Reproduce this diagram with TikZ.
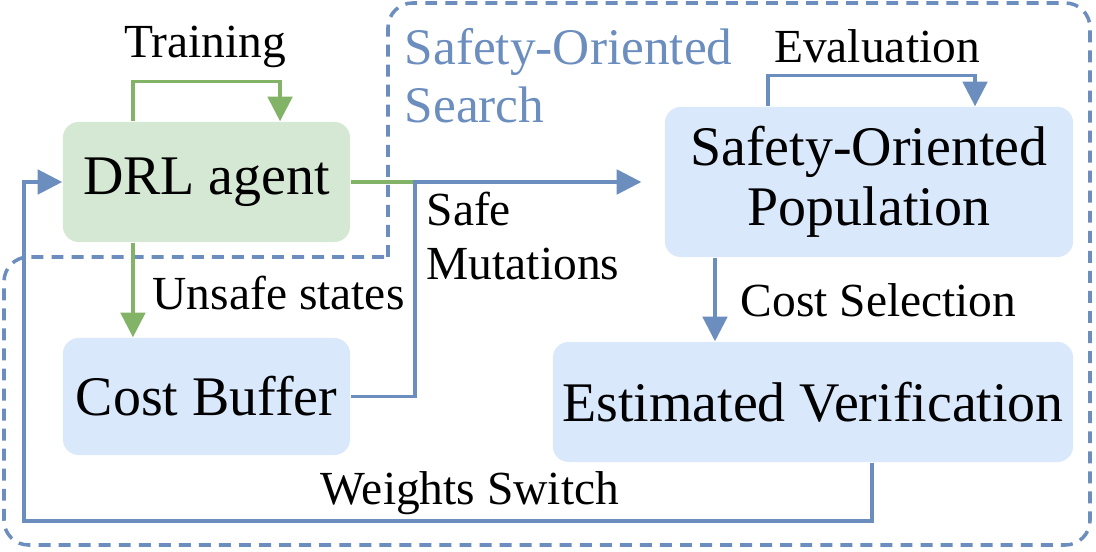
\documentclass[tikz,border=0pt]{standalone}
\usepackage{fontspec}
\setmainfont{Liberation Serif}
\usetikzlibrary{arrows.meta,calc}
\definecolor{agentgreen}{HTML}{D5E8D4}
\definecolor{linegreen}{HTML}{82B366}
\definecolor{boxblue}{HTML}{DAE8FC}
\definecolor{lineblue}{HTML}{6C8EBF}

\begin{document}
\begin{tikzpicture}[x=0.01cm,y=-0.01cm,
	box/.style={rounded corners=4.5pt, inner sep=0pt, align=center, font=\fontsize{15.9}{17}\selectfont},
	lbl/.style={inner sep=0pt, font=\fontsize{13.5}{15.6}\selectfont},
	gline/.style={linegreen, line width=0.9pt},
	bline/.style={lineblue, line width=0.9pt},
	tip/.style={-{Triangle[length=7pt,width=7pt]}}]
			
			\useasboundingbox (0,0) rectangle (1096,552);
			
			% search region
			\draw[lineblue, line width=1pt, dash pattern=on 3.4pt off 2.3pt, rounded corners=7pt] (388,257) -- (388,3) -- (1090,3) -- (1090,545) -- (4,545) -- (4,257) -- (388,257);
			\node[lbl, lineblue, anchor=west, align=left, font=\fontsize{14.6}{16.5}\selectfont] (title) at (404,76) {Safety-Oriented\\Search};
			
			\node[box, fill=agentgreen, minimum width=2.87cm, minimum height=1.2cm] (agent) at (206.5,182) {DRL agent};
			\node[box, fill=boxblue, minimum width=2.87cm, minimum height=1.17cm] (buffer) at (206.5,396.5) {Cost Buffer};
			\node[box, fill=boxblue, minimum width=4.08cm, minimum height=1.5cm] (pop) at (869,182) {Safety-Oriented\\Population};
			\node[box, fill=boxblue, minimum width=5.2cm, minimum height=1.2cm] (verif) at (813,402) {Estimated Verification};
			
			\coordinate (join) at (415,182);
			\coordinate (corner) at (24,521);
			\coordinate (csel) at ($(pop.south)+(-154,0)$);
			
			\draw[gline, tip] ([xshift=-0.735cm]agent.north) -- ++(0,-40) -| ([xshift=0.735cm]agent.north);
			\draw[gline] (agent.east) -- (join);
			\draw[bline, tip, shorten >=6.5pt] (buffer.east) -| (join) -- (pop.west);
			\draw[gline, tip] ([xshift=-0.735cm]agent.south) -- ([xshift=-0.735cm]buffer.north);
			\draw[bline, tip] ([xshift=-1.01cm]pop.north) -- ++(0,-31) -| ([xshift=1.06cm]pop.north);
			\draw[bline, tip] (csel) -- (csel |- verif.north);
			\draw[bline, tip] ([xshift=0.59cm]verif.south) |- (corner) |- (agent.west);
			
			\node[lbl] (training) at (205,47) {Training};
			\node[lbl] (evaluation) at (877,46) {Evaluation};
			\node[lbl, anchor=west] (unsafe) at (152,293) {Unsafe states};
			\node[lbl, anchor=west, align=left] (mutations) at (426,236) {Safe\\Mutations};
			\node[lbl, anchor=west] (costsel) at (740,300) {Cost Selection};
			\node[lbl] (weights) at (470,493) {Weights Switch};
		\end{tikzpicture}
\end{document}
